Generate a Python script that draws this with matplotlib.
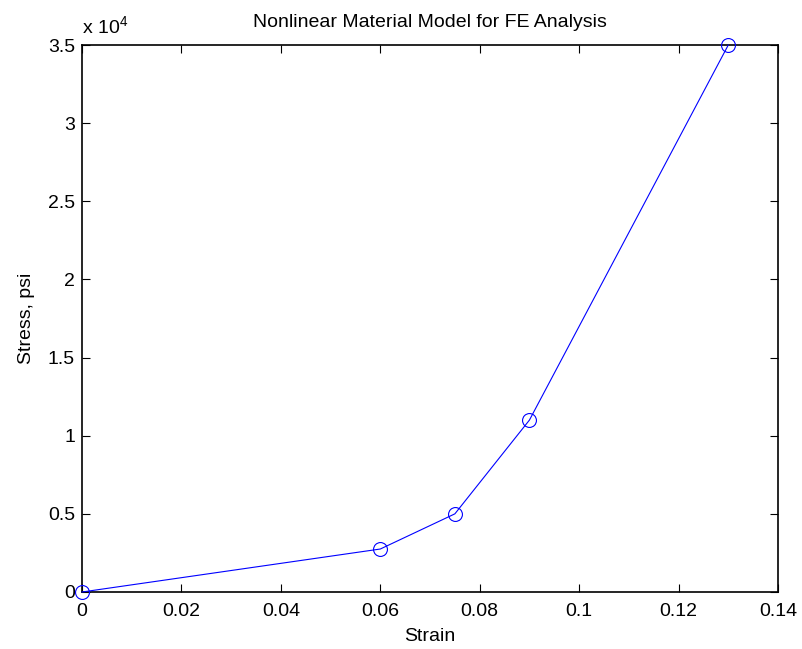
import matplotlib
matplotlib.use("Agg")
import matplotlib.pyplot as plt
from matplotlib.ticker import FuncFormatter, MultipleLocator

# Nonlinear stress-strain curve used as the material model
strain = [0.0, 0.06, 0.075, 0.09, 0.13]
stress_psi = [0.0, 2750.0, 5000.0, 11000.0, 35000.0]

x_ticks = [0, 0.02, 0.04, 0.06, 0.08, 0.1, 0.12, 0.14]

plt.rcParams['font.family'] = ['Liberation Sans', 'DejaVu Sans']
plt.rcParams['mathtext.fontset'] = 'custom'
plt.rcParams['mathtext.rm'] = 'Liberation Sans'
plt.rcParams['mathtext.it'] = 'Liberation Sans'

FS = 14

fig = plt.figure(figsize=(8.02, 6.49), dpi=100)
ax = fig.add_axes([82 / 802, 1 - 592 / 649, (778 - 82) / 802, (592 - 45) / 649])

ax.plot(strain, stress_psi, color='#0000ff', linewidth=0.8, marker='o',
        markersize=10, markerfacecolor='none', markeredgecolor='#0000ff',
        markeredgewidth=0.8, clip_on=False, zorder=3)

ax.set_xlim(0, 0.14)
ax.set_ylim(0, 35000)
ax.set_xticks(x_ticks)
ax.xaxis.set_major_formatter(FuncFormatter(lambda v, p: f"{v:g}"))
ax.yaxis.set_major_locator(MultipleLocator(5000))
ax.yaxis.set_major_formatter(FuncFormatter(lambda v, p: f"{v / 1e4:g}"))

for s in ax.spines.values():
    s.set_linewidth(1.2)
ax.tick_params(direction='in', length=6, width=0.8, top=True, right=True,
               labelsize=FS)
ax.tick_params(axis='x', pad=8)
ax.tick_params(axis='y', pad=5)

ax.text(0, 1.014, r'x 10$^{4}$', transform=ax.transAxes, ha='left',
        va='bottom', fontsize=FS)

ax.set_title('Nonlinear Material Model for FE Analysis', fontsize=FS, pad=13)
ax.set_xlabel('Strain', fontsize=FS, labelpad=6)
ax.set_ylabel('Stress, psi', fontsize=FS, labelpad=9)

fig.savefig('out.png', dpi=100)
